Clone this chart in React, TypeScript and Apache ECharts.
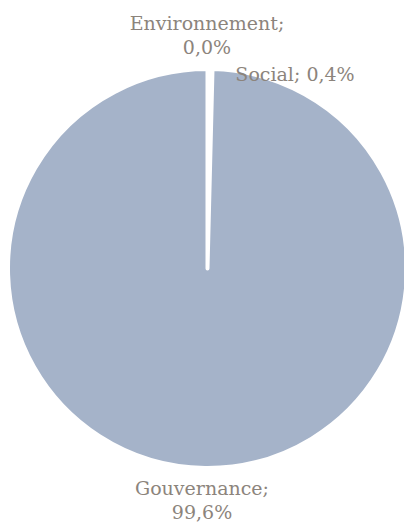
import React, { useEffect, useRef } from "react";
import * as echarts from "echarts";

const categories = ["Environnement", "Social", "Gouvernance"];
const values = [0.0, 0.4, 99.6];
const sliceColors = ["#A5B3C9", "#FFFFFF", "#A5B3C9"];
const twoLine = [true, false, true];

const fmt = (v: number) => v.toFixed(1).replace(".", ",") + "%";

export default function App() {
  const ref = useRef<HTMLDivElement>(null);
  useEffect(() => {
    if (!ref.current) return;
    const chart = echarts.init(ref.current, undefined, { renderer: "svg" });
    const labelPos = [
      { x: 207, y: 35 },
      { x: 295, y: 74 },
      { x: 202, y: 500 },
    ];
    chart.setOption({
      animation: false,
      backgroundColor: "#ffffff",
      series: [
        {
          type: "pie",
          center: [207.5, 268.5],
          radius: 199.5,
          startAngle: 90,
          clockwise: true,
          avoidLabelOverlap: false,
          stillShowZeroSum: true,
          itemStyle: { borderColor: "#ffffff", borderWidth: 4 },
          label: {
            show: true,
            position: "outside",
            color: "#8c847c",
            fontFamily: "DejaVu Serif",
            fontSize: 19,
            lineHeight: 24,
            align: "center",
            formatter: (p: any) =>
              twoLine[p.dataIndex]
                ? p.name + ";\n" + fmt(p.value)
                : p.name + "; " + fmt(p.value),
          },
          labelLine: { show: false },
          labelLayout: (p: any) => ({
            x: labelPos[p.dataIndex].x,
            y: labelPos[p.dataIndex].y,
            align: "center",
            verticalAlign: "middle",
          }),
          emphasis: { disabled: true },
          data: categories.map((c, i) => ({
            name: c,
            value: values[i],
            itemStyle: { color: sliceColors[i] },
          })),
        },
      ],
    });
    return () => chart.dispose();
  }, []);
  return (
    <div
      ref={ref}
      style={{ position: "fixed", left: 0, top: 0, width: 404, height: 524 }}
    />
  );
}
